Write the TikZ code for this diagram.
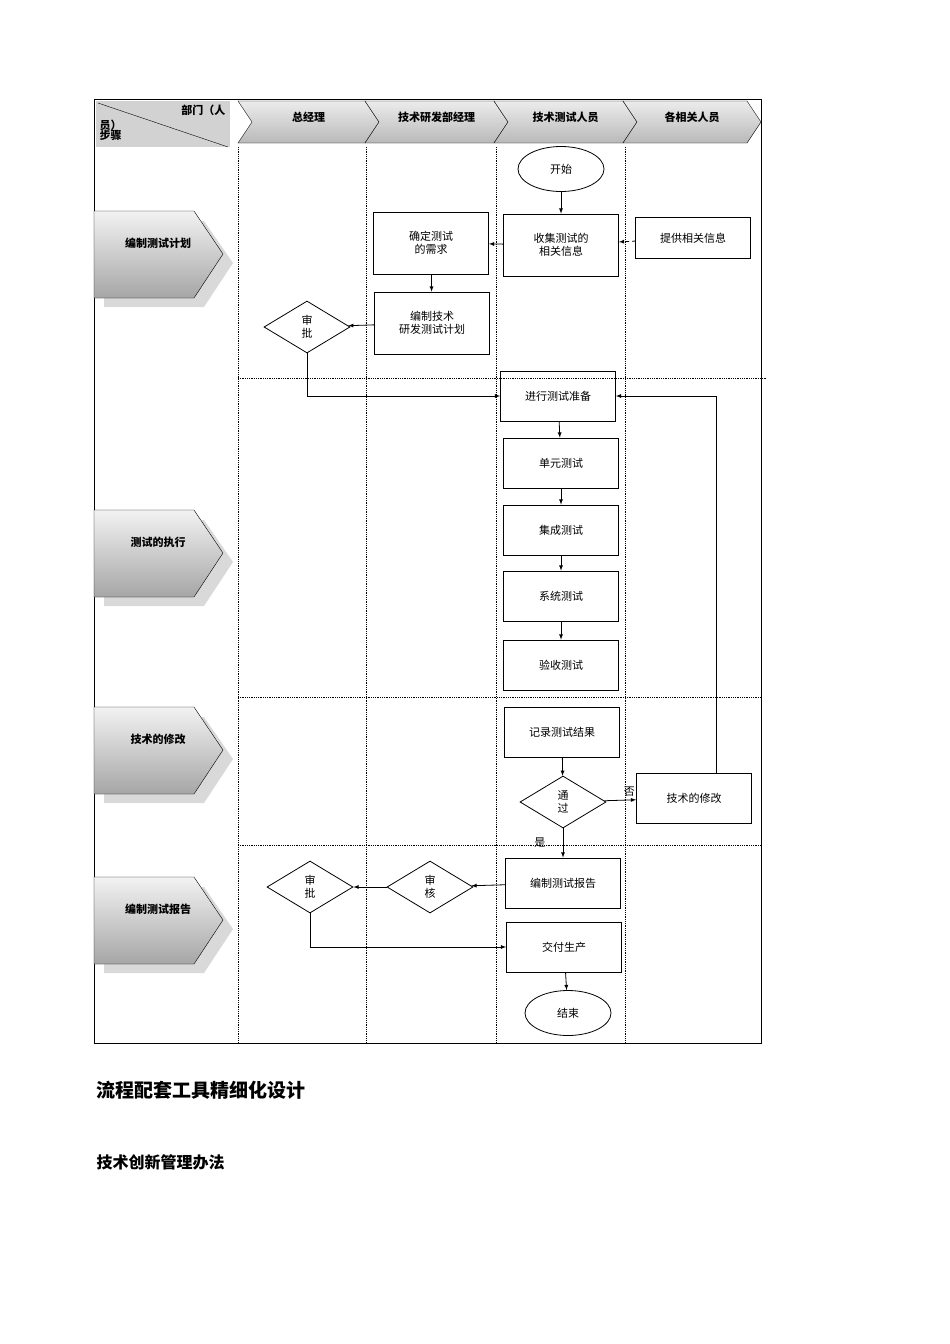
\documentclass[tikz,border=0pt]{standalone}
\usepackage{fontspec}
\setmainfont{Liberation Serif}
\newfontfamily\cjk{Noto Sans CJK SC}
\usepackage{tikz}
\usetikzlibrary{shapes.geometric,positioning}
\tikzstyle{node:box}=[draw,thick,minimum width=115pt,minimum height=50pt,align=center,font=\cjk\fontsize{11}{13}\selectfont]
\tikzstyle{node:term}=[draw,ellipse,thick,minimum width=86pt,minimum height=45pt,font=\cjk\fontsize{11}{13}\selectfont]
\tikzstyle{node:check}=[draw,diamond,thick,aspect=1.7,minimum width=86pt,minimum height=52pt,inner sep=0pt,align=center,font=\cjk\fontsize{11}{13}\selectfont]
\tikzstyle{node:step}=[font=\cjk\bfseries\fontsize{11}{13}\selectfont]
\tikzstyle{draw:flow}=[-latex,thick]
\tikzstyle{draw:lane}=[densely dotted,thick]
\begin{document}
\begin{tikzpicture}[x=1pt,y=-1pt]
        \useasboundingbox[fill=white] (0,0) rectangle (950,1344);

        % Frame and header
        \draw[thick] (94,99) rectangle (761,1043);
        \fill[gray!35] (96,101) rectangle (230,147);
        \draw (98,103) -- (228,147);
        \node[node:step,anchor=north east] at (229,101) {部门（人};
        \node[node:step,anchor=north west,align=left] at (96,116) {员）\\[-3pt]步骤};

        % Header chevrons
        \foreach \xa/\xb/\name/\txt in {238/365/H1/总经理,365/494/H2/技术研发部经理,494/623/H3/技术测试人员,623/747/H4/各相关人员} {
                \shade[top color=gray!15,bottom color=gray!55,draw=black]
                    (\xa,101) -- (\xb,101) -- (\xb+14,122) -- (\xb,143) -- (\xa,143) -- (\xa+14,122) -- cycle;
                \node[node:step] (\name) at ({(\xa+\xb)/2+7},117) {\txt};
            }

        % Swimlanes
        \foreach \x in {238,366,496,625} {
                \draw[draw:lane] (\x,147) -- (\x,1043);
            }
        \draw[draw:lane] (238,378) -- (766,378);
        \draw[draw:lane] (238,697) -- (761,697);
        \draw[draw:lane] (238,845) -- (761,845);

        % Step arrows
        \foreach \y/\name/\txt in {211/S1/编制测试计划,510/S2/测试的执行,707/S3/技术的修改,877/S4/编制测试报告} {
                \fill[gray!30] (104,\y+10) -- (204,\y+10) -- (233,\y+52) -- (204,\y+96) -- (104,\y+96) -- cycle;
                \shade[top color=gray!10,bottom color=gray!70,draw=black]
                    (94,\y) -- (194,\y) -- (223,\y+43) -- (194,\y+87) -- (94,\y+87) -- cycle;
                \node[node:step] (\name) at (158,\y+32) {\txt};
            }

        % Flow nodes
        \node[node:term] (start) at (561,169) {开始};
        \node[node:box,minimum height=62pt] (collect) at (561,245) {收集测试的\\相关信息};
        \node[node:box,minimum height=41pt] (provide) at (693,238) {提供相关信息};
        \node[node:box,minimum height=62pt] (confirm) at (431,243) {确定测试\\的需求};
        \node[node:box,minimum height=62pt] (plan) at (432,323) {编制技术\\研发测试计划};
        \node[node:check] (approveA) at (307,327) {审\\批};
        \node[node:box] (prepare) at (558,396) {进行测试准备};
        \node[node:box] (unit) at (561,463) {单元测试};
        \node[node:box] (integ) at (561,530) {集成测试};
        \node[node:box] (system) at (561,596) {系统测试};
        \node[node:box] (accept) at (561,665) {验收测试};
        \node[node:box] (record) at (562,732) {记录测试结果};
        \node[node:check] (pass) at (563,802) {通\\过};
        \node[node:box] (modify) at (694,798) {技术的修改};
        \node[node:box] (report) at (563,883) {编制测试报告};
        \node[node:check] (review) at (430,887) {审\\核};
        \node[node:check] (approveB) at (310,887) {审\\批};
        \node[node:box] (deliver) at (564,947) {交付生产};
        \node[node:term] (finish) at (568,1013) {结束};

        % Connections
        \draw[draw:flow] (start) -- (collect);
        \draw[draw:flow,dashed] (provide) -- (collect);
        \draw[draw:flow] (collect) -- (confirm);
        \draw[draw:flow] (confirm) -- (plan);
        \draw[draw:flow] (plan) -- (approveA);
        \draw[draw:flow] (approveA.south) |- (prepare.west);
        \draw[draw:flow] (modify.north -| 716,0) |- (prepare.east);
        \draw[draw:flow] (prepare) -- (unit);
        \draw[draw:flow] (unit) -- (integ);
        \draw[draw:flow] (integ) -- (system);
        \draw[draw:flow] (system) -- (accept);
        \draw[draw:flow] (record) -- (pass);
        \draw[draw:flow] (pass) -- node[above right,font=\cjk\fontsize{11}{13}\selectfont] {否} (modify);
        \draw[draw:flow] (pass) -- node[left=14pt,font=\cjk\fontsize{11}{13}\selectfont] {是} (report);
        \draw[draw:flow] (report) -- (review);
        \draw[draw:flow] (review) -- (approveB);
        \draw[draw:flow] (approveB.south) |- (deliver.west);
        \draw[draw:flow] (deliver) -- (finish);

        % Headings below
        \node[anchor=west,font=\cjk\bfseries\fontsize{19}{23}\selectfont] (title) at (93,1090) {流程配套工具精细化设计};
        \node[anchor=west,font=\cjk\bfseries\fontsize{16}{20}\selectfont] (subtitle) at (93,1162) {技术创新管理办法};
    \end{tikzpicture}
\end{document}
